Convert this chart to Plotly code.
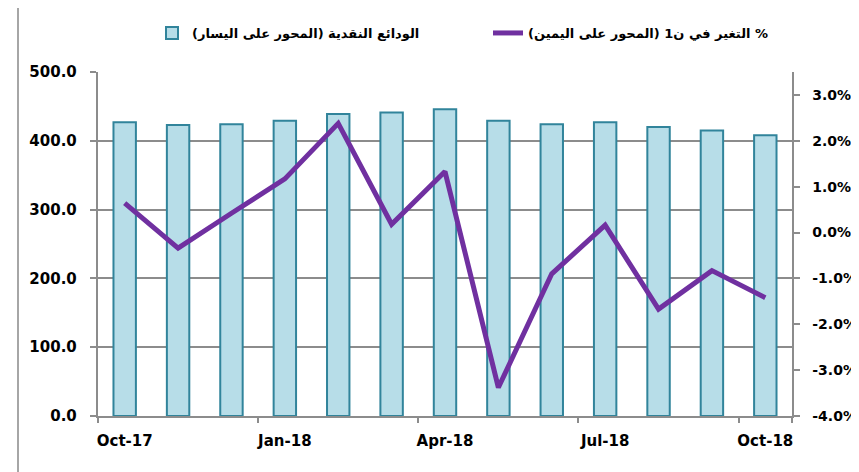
import plotly.graph_objects as go

months = ["Oct-17", "Nov-17", "Dec-17", "Jan-18", "Feb-18", "Mar-18", "Apr-18",
          "May-18", "Jun-18", "Jul-18", "Aug-18", "Sep-18", "Oct-18"]
deposits = [427, 423, 424, 429, 439, 441, 446, 429, 424, 427, 420, 415, 408]
change_pct = [0.64, -0.34, 0.42, 1.17, 2.38, 0.18, 1.33, -3.38, -0.90, 0.16, -1.67, -0.83, -1.42]
x_tick_labels = ["Oct-17", "Jan-18", "Apr-18", "Jul-18", "Oct-18"]
left_ticks = [0, 100, 200, 300, 400, 500]
right_ticks = [-4, -3, -2, -1, 0, 1, 2, 3]

name_bar = "\u202Bالودائع النقدية (المحور على اليسار)\u202C"
name_line = "\u202B% التغير في ن1 (المحور على اليمين)\u202C"

NB = "\u00a0"
left_text = [f"{v:.1f}" + NB * 2 for v in left_ticks]
right_text = [NB * 2 + f"{v:.1f}%" for v in right_ticks]

FONT = "DejaVu Sans"
GRID = "#8c8c8c"

fig = go.Figure()
fig.add_trace(go.Bar(
    x=months, y=deposits, name=name_bar,
    marker=dict(color="#b7dde8", line=dict(color="#31849b", width=2)),
    yaxis="y",
))
fig.add_trace(go.Scatter(
    x=months, y=change_pct, name=name_line, mode="lines",
    line=dict(color="#7030a0", width=5),
    yaxis="y2",
))

# page has an 8px body margin; figure sized to the visible area
OFF = 8
W, H = 859 - OFF, 472 - OFF
L, T = 98 - OFF, 72 - OFF
R, B = W - (792 - OFF), H - (416 - OFF)
pw, ph = W - L - R, H - T - B

def px_x(page_x):
    return (page_x - OFF - L) / pw

def px_y(page_y):
    return (H - B - (page_y - OFF)) / ph

fig.update_layout(
    width=W, height=H,
    margin=dict(l=L, r=R, t=T, b=B, pad=0, autoexpand=False),
    paper_bgcolor="white", plot_bgcolor="white",
    bargap=0.58,
    showlegend=True,
    legend=dict(
        orientation="h", x=px_x(152), xanchor="left",
        y=px_y(33), yanchor="middle",
        font=dict(family=FONT, size=13, color="#000000", weight="bold"),
        entrywidth=291, entrywidthmode="pixels",
        bgcolor="rgba(0,0,0,0)",
    ),
    xaxis=dict(
        type="category", categoryorder="array", categoryarray=months,
        range=[-0.5, len(months) - 0.5],
        tickvals=x_tick_labels, ticktext=x_tick_labels, tickangle=0,
        tickson="boundaries", ticks="outside", ticklen=5, tickwidth=1.5, tickcolor=GRID,
        showline=True, linecolor=GRID, linewidth=1.5,
        showgrid=False, automargin=False,
        tickfont=dict(family=FONT, size=15, color="#000000", weight="bold"),
        ticklabelstandoff=10,
    ),
    yaxis=dict(
        range=[0, 500], tickvals=left_ticks, ticktext=left_text,
        ticks="outside", ticklen=6, tickwidth=1.5, tickcolor=GRID,
        showline=True, linecolor=GRID, linewidth=1.5,
        showgrid=True, gridcolor=GRID, gridwidth=1.5,
        zeroline=False, automargin=False,
        tickfont=dict(family=FONT, size=15, color="#000000", weight="bold"),
    ),
    yaxis2=dict(
        overlaying="y", side="right",
        range=[-4, 3.5], tickvals=right_ticks, ticktext=right_text,
        ticks="outside", ticklen=6, tickwidth=1.5, tickcolor=GRID,
        showline=True, linecolor=GRID, linewidth=1.5,
        showgrid=False, zeroline=False, automargin=False,
        tickfont=dict(family=FONT, size=14, color="#000000", weight="bold"),
    ),
    shapes=[dict(
        type="rect", xref="paper", yref="paper",
        x0=px_x(18), x1=px_x(900),
        y0=px_y(520), y1=px_y(5),
        line=dict(color="#a6a6a6", width=2), fillcolor="rgba(0,0,0,0)",
        layer="below",
    )],
)

fig.write_html("out.html")
